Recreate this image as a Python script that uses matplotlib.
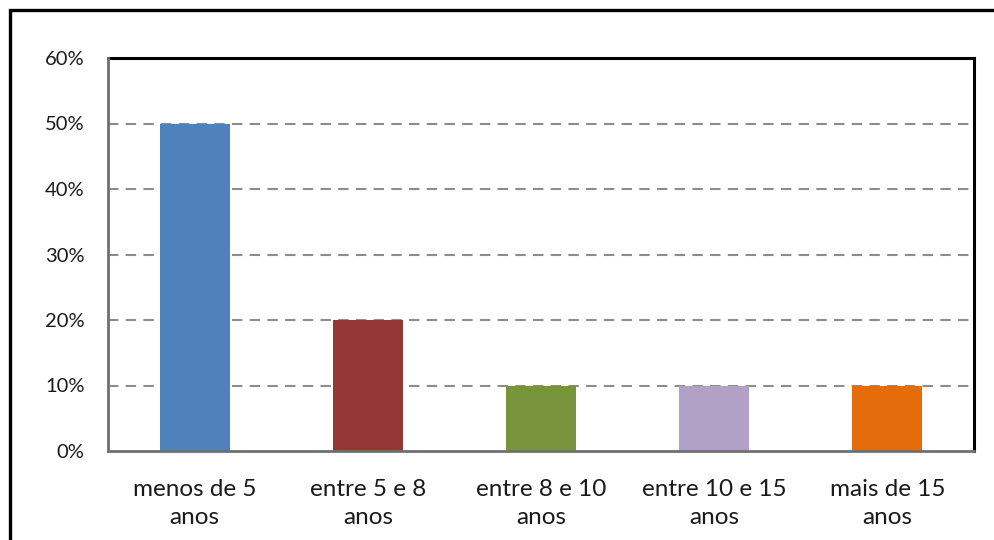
import numpy as np
import matplotlib.pyplot as plt
from matplotlib.patches import Rectangle
from matplotlib.ticker import PercentFormatter

# Tempo de serviço
categorias = ['menos de 5\nanos', 'entre 5 e 8\nanos', 'entre 8 e 10\nanos',
              'entre 10 e 15\nanos', 'mais de 15\nanos']
percentagens = [50, 20, 10, 10, 10]
cores = ['#4F81BD', '#953735', '#77933C', '#B2A1C7', '#E46C0A']
yticks = [0, 10, 20, 30, 40, 50, 60]

plt.rcParams['font.family'] = ['Lato', 'DejaVu Sans']

fig = plt.figure(figsize=(9.95, 5.4), dpi=100)
ax = fig.add_axes([108/995, 1-451/540, (974-108)/995, (451-58)/540])

x = np.arange(len(categorias))
ax.bar(x, percentagens, width=0.405, color=cores, zorder=3)

ax.set_xlim(-0.5, len(categorias)-0.5)
ax.set_ylim(0, 60)
ax.set_yticks(yticks)
ax.yaxis.set_major_formatter(PercentFormatter(decimals=0))
ax.set_xticks(x)
ax.set_xticklabels(categorias, fontsize=17.5, linespacing=1.4, color='#1a1a1a')
ax.tick_params(axis='y', length=0, pad=17, labelsize=14.5, labelcolor='#1a1a1a')
ax.tick_params(axis='x', length=0, pad=20)

for y in yticks[1:-1]:
    ax.axhline(y, color='#8C8C8C', lw=1.5, ls=(0, (5, 3.5)), zorder=2)

for lado in ['top', 'right']:
    ax.spines[lado].set_color('black')
    ax.spines[lado].set_linewidth(2.2)
for lado in ['left', 'bottom']:
    ax.spines[lado].set_color('#707070')
    ax.spines[lado].set_linewidth(2)
    ax.spines[lado].set_zorder(4)

# moldura do gráfico
fig.patches.append(Rectangle((9.5/995, -0.1), 1.2, 1-9.5/540+0.1,
                             transform=fig.transFigure, fill=False,
                             ec='black', lw=2.4))

fig.savefig('out.png', dpi=100)
